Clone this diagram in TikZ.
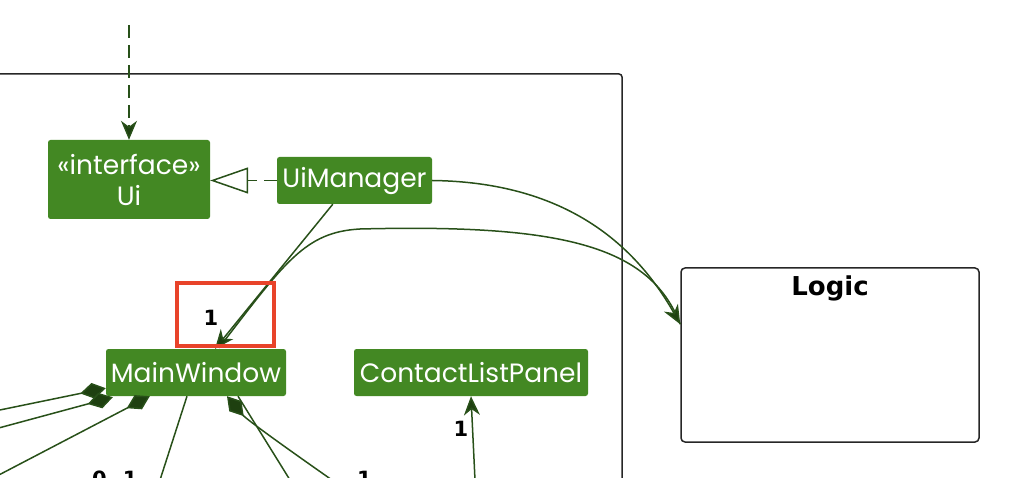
\documentclass[tikz,border=0pt]{standalone}
\usepackage{fontspec}
\newfontfamily\nodefont{Poppins}
\newfontfamily\labfont{DejaVu Sans}
\usetikzlibrary{arrows.meta,calc}
\definecolor{umlgreen}{RGB}{67,136,35}
\definecolor{umlline}{RGB}{40,80,25}
\definecolor{umlhead}{RGB}{30,64,16}
\definecolor{hlred}{RGB}{232,67,42}
\begin{document}
\begin{tikzpicture}[x=1pt,y=-1pt,
  cls/.style={fill=umlgreen, rounded corners=2.5, text=white, font=\nodefont\fontsize{26.5}{31}\selectfont, inner sep=0, align=center},
  conn/.style={draw=umlline, line width=1.5},
  head/.style={-{Stealth[length=19,width=16,inset=6,fill=umlhead]}},
  comp/.style={-{Diamond[length=26,width=16,fill=umlhead]}},
  mult/.style={font=\labfont\bfseries\fontsize{21}{21}\selectfont, inner sep=0, text=black},
  dsh/.style={dash pattern=on 13 off 7},
]
\useasboundingbox (0,0) rectangle (1020,478);
\clip (0,0) rectangle (1020,478);

% package frame
\draw[black!85, line width=1.5, rounded corners=3] (-10,74) -- (622,74) -- (622,500);

% classes
\node[cls, minimum width=162, minimum height=79] (ui) at (129,179.5) {«interface»\\Ui};
\node[cls, minimum width=155, minimum height=47] (uim) at (354.5,180.5) {UiManager};
\node[cls, minimum width=180, minimum height=47] (mw) at (196,372.5) {MainWindow};
\node[cls, minimum width=234, minimum height=47] (clp) at (471,372.5) {ContactListPanel};

% Logic package
\node[draw=black!85, line width=1.5, rounded corners=4, minimum width=298, minimum height=174, inner sep=0] (logic) at (830,355) {};
\node[font=\labfont\bfseries\fontsize{26}{26}\selectfont, anchor=north, inner sep=0] (logictitle) at ($(logic.north)+(0,8)$) {Logic};

% free ends
\coordinate (topin) at (129,25);
\coordinate (logicin) at ($(logic.north west)+(0,57)$);
\coordinate (offA) at (-5,411);
\coordinate (offB) at (-5,429);
\coordinate (offC) at (-5,477);
\coordinate (offE) at (160,480);
\coordinate (offP) at (290,480);
\coordinate (offQ) at (332,480);
\coordinate (offR) at (475,480);

% connectors
\draw[conn, dsh, head] (topin) -- (ui.north);
\draw[conn, dsh, -{Triangle[open, length=38, width=26, fill=white, line width=1.5]}] (uim.west) -- (uim.west -| ui.east);
\draw[conn] ($(mw.north)+(23,-1)$) .. controls (285,262) and (305,232) .. (360,229) .. controls (560,224) and (650,245) .. (logicin);
\draw[conn, head] (uim.east) .. controls (555,182) and (630,235) .. (logicin);
\draw[conn, head] ($(uim.south west)+(56,0)$) -- ($(mw.north)+(19,0)$);
\node[mult] (m1) at (211,318) {1};

\draw[conn, comp] (offA) -- ($(mw.south west)+(0,-8)$);
\draw[conn, comp] (offB) -- ($(mw.south west)+(7,1)$);
\draw[conn, comp] (offC) -- ($(mw.south west)+(44,0)$);
\draw[conn] ($(mw.south)+(-9,0)$) -- (offE);
\draw[conn] ($(mw.south)+(42,0)$) -- (offP);
\draw[conn, comp] (offQ) .. controls (292,452) and (247,420) .. ($(mw.south)+(31,0)$);
\draw[conn, head] (offR) -- (clp.south);
\node[mult] (m2) at (461,429) {1};
\node[mult, anchor=north west] (m3) at (92,471) {0..1};
\node[mult, anchor=north west] (m4) at (357,471) {1};

% highlight
\node[draw=hlred, line width=4, minimum width=97, minimum height=63, inner sep=0] (hl) at (225.5,314.5) {};
\end{tikzpicture}
\end{document}
